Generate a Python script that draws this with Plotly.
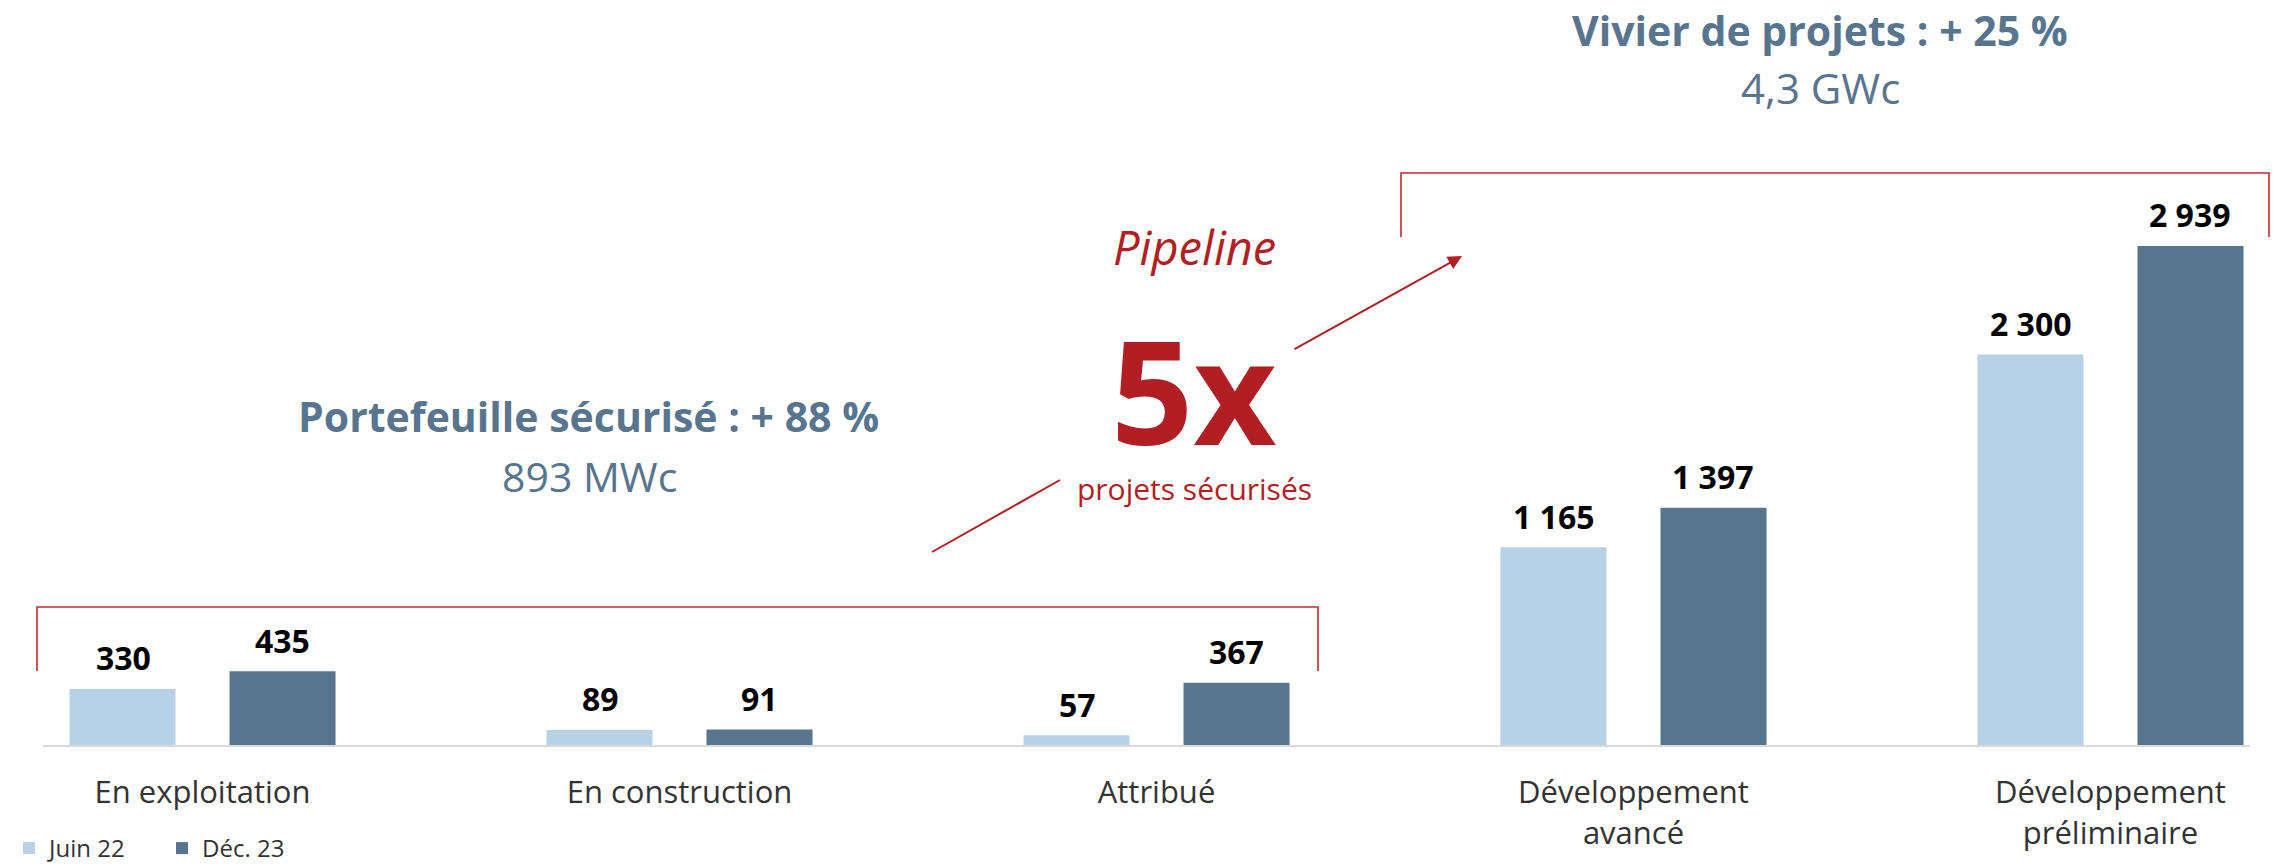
import plotly.graph_objects as go

categories = ["En exploitation", "En construction", "Attribué",
              "Développement<br>avancé", "Développement<br>préliminaire"]
series_names = ["Juin 22", "Déc. 23"]
juin22 = [330, 89, 57, 1165, 2300]
dec23 = [435, 91, 367, 1397, 2939]

C_LIGHT = "#B7D1E7"
C_DARK = "#587590"
C_RED = "#B11E24"
C_BRK = "#C32A30"
C_TITLE = "#587590"
FONT = "Open Sans"

W, H = 2275, 868
ML, MR, MT, MB = 43, 25, 0, 123
PW, PH = W - ML - MR, H - MT - MB


def px(x):
    return (x - ML) / PW


def py(y):
    return (H - MB - y) / PH


fig = go.Figure()
fig.add_trace(go.Bar(x=categories, y=juin22, name=series_names[0],
                     marker=dict(color=C_LIGHT, line=dict(width=0))))
fig.add_trace(go.Bar(x=categories, y=dec23, name=series_names[1],
                     marker=dict(color=C_DARK, line=dict(width=0))))


def fmt(v):
    return f"{v:,}".replace(",", " ")


annotations = []
for vals, shift in ((juin22, -79.5), (dec23, 79.5)):
    for c, v in zip(categories, vals):
        annotations.append(dict(x=c, y=v, xref="x", yref="y", text=f"<b>{fmt(v)}</b>",
                                showarrow=False, xshift=shift, yshift=31, yanchor="middle",
                                font=dict(family=FONT, size=32, color="#000000")))


def txt(x, y, text, size, color, bold=False, italic=False):
    t = text
    if bold:
        t = f"<b>{t}</b>"
    if italic:
        t = f"<i>{t}</i>"
    annotations.append(dict(x=px(x), y=py(y), xref="paper", yref="paper", text=t,
                            showarrow=False, xanchor="center", yanchor="middle",
                            font=dict(family=FONT, size=size, color=color)))


txt(1820, 30, "Vivier de projets : + 25 %", 41, C_TITLE, bold=True)
txt(1820, 88, "4,3 GWc", 42, C_TITLE)
txt(588, 416, "Portefeuille sécurisé : + 88 %", 41, C_TITLE, bold=True)
txt(589, 476, "893 MWc", 41, C_TITLE)
txt(1194, 247, "Pipeline", 47, C_RED, italic=True)
txt(1194, 389, "5x", 144, C_RED, bold=True)
txt(1194, 488, "projets sécurisés", 30, C_RED)

# arrow to the pipeline bracket
annotations.append(dict(x=px(1462), y=py(256), xref="paper", yref="paper", text="",
                        showarrow=True, ax=1293 - 1462, ay=350 - 256,
                        arrowhead=2, arrowsize=1.4, arrowwidth=2, arrowcolor=C_RED))

shapes = []


def bracket(x0, x1, ytop, ybot):
    shapes.append(dict(type="path", xref="paper", yref="paper",
                       path=f"M {px(x0)},{py(ybot)} L {px(x0)},{py(ytop)} L {px(x1)},{py(ytop)} L {px(x1)},{py(ybot)}",
                       line=dict(color=C_BRK, width=1.6)))


bracket(37, 1318, 607, 671)
bracket(1401, 2269, 173, 237)
shapes.append(dict(type="line", xref="paper", yref="paper",
                   x0=px(932), y0=py(552), x1=px(1060), y1=py(480),
                   line=dict(color=C_RED, width=2)))

span = PW / 477.0
r0 = -159.5 / 477.0

fig.update_layout(
    width=W, height=H,
    margin=dict(l=ML, r=MR, t=MT, b=MB, autoexpand=False),
    paper_bgcolor="white", plot_bgcolor="white",
    barmode="group", bargap=0.329, bargroupgap=0.3375,
    showlegend=True,
    legend=dict(orientation="h", x=px(9), y=py(826), xanchor="left", yanchor="top",
                font=dict(family=FONT, size=24, color="#333333"),
                traceorder="normal", entrywidth=108, bgcolor="rgba(0,0,0,0)"),
    xaxis=dict(type="category", range=[r0, r0 + span], showgrid=False,
               showline=True, linecolor="#D9D9D9", linewidth=2,
               ticks="", ticklabelstandoff=19,
               tickfont=dict(family=FONT, size=31, color="#333333"), fixedrange=True),
    yaxis=dict(range=[0, PH / 0.1698], visible=False, showgrid=False, fixedrange=True),
    annotations=annotations,
    shapes=shapes,
    font=dict(family=FONT),
)

fig.write_html("out.html", config={"displayModeBar": False},
               post_script="document.body.style.margin='0';document.body.style.overflow='hidden';")
